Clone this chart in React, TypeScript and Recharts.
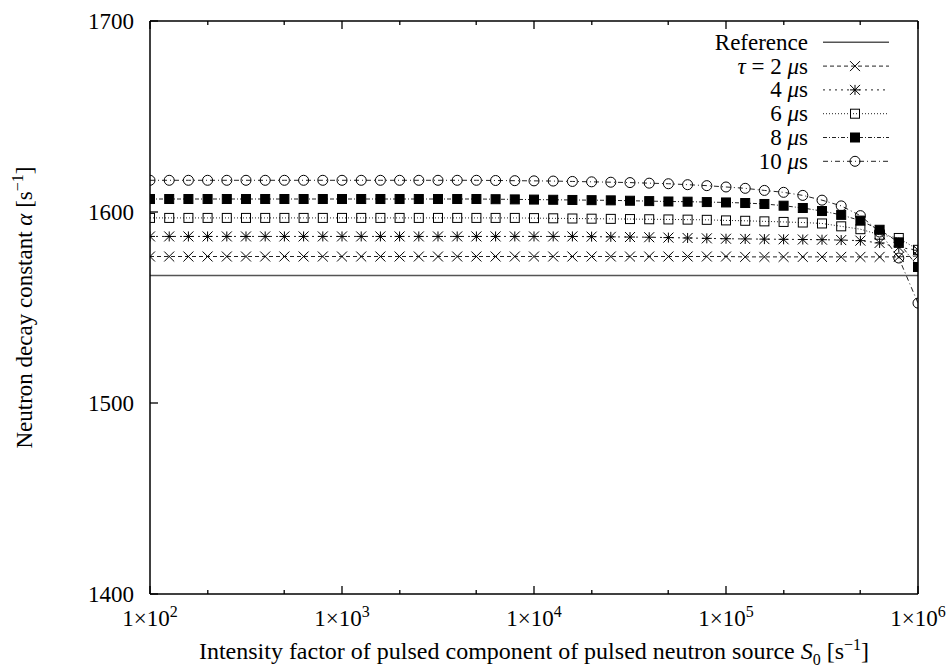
import { LineChart, Line, XAxis, YAxis, ReferenceLine, Legend } from "recharts";

const FONT = "'Liberation Serif', 'Times New Roman', serif";

// intensity factor S0 [1/s], 10 points per decade
const S_VALUES = [
  100, 125.9, 158.5, 199.5, 251.2, 316.2, 398.1, 501.2, 631.0, 794.3,
  1000, 1259, 1585, 1995, 2512, 3162, 3981, 5012, 6310, 7943,
  10000, 12589, 15849, 19953, 25119, 31623, 39811, 50119, 63096, 79433,
  100000, 125893, 158489, 199526, 251189, 316228, 398107, 501187, 630957, 794328,
  1000000,
];

const REFERENCE_ALPHA = 1566.7;

const TAU_2 = [
  1576.7, 1576.7, 1576.7, 1576.7, 1576.7, 1576.7, 1576.7, 1576.7, 1576.7, 1576.7,
  1576.7, 1576.7, 1576.7, 1576.7, 1576.7, 1576.7, 1576.7, 1576.7, 1576.7, 1576.7,
  1576.7, 1576.7, 1576.7, 1576.7, 1576.7, 1576.7, 1576.7, 1576.7, 1576.7, 1576.7,
  1576.7, 1576.5, 1576.5, 1576.5, 1576.5, 1576.5, 1576.5, 1576.5, 1576.5, 1576.5,
  1577.0,
];

const TAU_4 = [
  1587.2, 1587.2, 1587.2, 1587.2, 1587.2, 1587.2, 1587.2, 1587.2, 1587.2, 1587.2,
  1587.2, 1587.2, 1587.2, 1587.2, 1587.2, 1587.2, 1587.2, 1587.2, 1587.2, 1587.2,
  1587.2, 1587.2, 1587.2, 1587.1, 1587.0, 1586.9, 1586.8, 1586.6, 1586.4, 1586.2,
  1586.0, 1585.9, 1585.8, 1585.7, 1585.6, 1585.5, 1585.3, 1585.0, 1583.8, 1581.5,
  1580.0,
];

const TAU_6 = [
  1596.9, 1596.9, 1596.9, 1596.9, 1596.9, 1596.9, 1596.9, 1596.9, 1596.9, 1596.9,
  1596.9, 1596.9, 1596.9, 1596.9, 1596.9, 1596.9, 1596.9, 1596.9, 1596.9, 1596.9,
  1596.8, 1596.7, 1596.6, 1596.5, 1596.4, 1596.3, 1596.2, 1596.1, 1596.0, 1595.9,
  1595.6, 1595.4, 1595.1, 1594.8, 1594.5, 1594.0, 1592.5, 1591.0, 1588.1, 1586.4,
  1580.2,
];

const TAU_8 = [
  1606.8, 1606.8, 1606.8, 1606.8, 1606.8, 1606.8, 1606.8, 1606.8, 1606.8, 1606.8,
  1606.8, 1606.8, 1606.8, 1606.8, 1606.8, 1606.8, 1606.8, 1606.8, 1606.7, 1606.6,
  1606.5, 1606.4, 1606.3, 1606.2, 1606.1, 1605.9, 1605.7, 1605.5, 1605.4, 1605.2,
  1605.0, 1604.7, 1604.2, 1603.3, 1602.1, 1600.5, 1598.5, 1595.5, 1590.7, 1584.1,
  1571.2,
];

const TAU_10 = [
  1616.6, 1616.6, 1616.6, 1616.6, 1616.6, 1616.6, 1616.6, 1616.6, 1616.6, 1616.6,
  1616.6, 1616.6, 1616.6, 1616.6, 1616.6, 1616.6, 1616.6, 1616.6, 1616.5, 1616.4,
  1616.3, 1616.2, 1616.0, 1615.8, 1615.6, 1615.4, 1615.1, 1614.8, 1614.3, 1613.8,
  1613.1, 1612.4, 1611.3, 1610.3, 1608.7, 1606.2, 1603.2, 1598.1, 1589.5, 1575.9,
  1552.3,
];

const X_TICKS = [100, 200, 500, 1000, 2000, 5000, 10000, 20000, 50000, 100000, 200000, 500000, 1000000];
const Y_TICKS = [1400, 1500, 1600, 1700];

type Shape = "cross" | "star" | "box" | "fbox" | "circle";

const SERIES: { key: string; tau: string; dash: string; shape: Shape }[] = [
  { key: "t2", tau: "2", dash: "4 3", shape: "cross" },
  { key: "t4", tau: "4", dash: "2 4", shape: "star" },
  { key: "t6", tau: "6", dash: "1 2", shape: "box" },
  { key: "t8", tau: "8", dash: "4 2 1 2", shape: "fbox" },
  { key: "t10", tau: "10", dash: "5 3 1 3", shape: "circle" },
];

const data = S_VALUES.map((s, i) => ({
  s,
  t2: TAU_2[i],
  t4: TAU_4[i],
  t6: TAU_6[i],
  t8: TAU_8[i],
  t10: TAU_10[i],
}));

function Marker({ shape, cx, cy }: { shape: Shape; cx: number; cy: number }) {
  const r = 5;
  const q = 4.5;
  if (shape === "cross")
    return <path d={`M${cx - r},${cy - r}L${cx + r},${cy + r}M${cx - r},${cy + r}L${cx + r},${cy - r}`} stroke="#000" strokeWidth={1} />;
  if (shape === "star")
    return (
      <path
        d={`M${cx - r},${cy - r}L${cx + r},${cy + r}M${cx - r},${cy + r}L${cx + r},${cy - r}M${cx - r},${cy}L${cx + r},${cy}M${cx},${cy - r}L${cx},${cy + r}`}
        stroke="#000"
        strokeWidth={1}
      />
    );
  if (shape === "box") return <rect x={cx - q} y={cy - q} width={2 * q} height={2 * q} fill="none" stroke="#000" strokeWidth={1} />;
  if (shape === "fbox") return <rect x={cx - q} y={cy - q} width={2 * q} height={2 * q} fill="#000" stroke="#000" strokeWidth={1} />;
  return <circle cx={cx} cy={cy} r={r} fill="none" stroke="#000" strokeWidth={1} />;
}

const isMajor = (v: number) => Math.abs(Math.log10(v) - Math.round(Math.log10(v))) < 1e-6;

function BottomTick(props: any) {
  const { x, y, payload } = props;
  const v = payload.value;
  const major = isMajor(v);
  return (
    <g>
      <line x1={x} x2={x} y1={y} y2={y - (major ? 8 : 4)} stroke="#000" strokeWidth={1.3} />
      {major && (
        <text x={x} y={y + 32} textAnchor="middle" fontSize={23} fontFamily={FONT} fill="#000">
          1×10<tspan dy={-9} fontSize={16}>{Math.round(Math.log10(v))}</tspan>
        </text>
      )}
    </g>
  );
}

function TopTick(props: any) {
  const { x, y, payload } = props;
  const major = isMajor(payload.value);
  return <line x1={x} x2={x} y1={y} y2={y + (major ? 8 : 4)} stroke="#000" strokeWidth={1.3} />;
}

function LeftTick(props: any) {
  const { x, y, payload } = props;
  return (
    <g>
      <line x1={x} x2={x + 8} y1={y} y2={y} stroke="#000" strokeWidth={1.3} />
      <text x={x - 16} y={y + 7.5} textAnchor="end" fontSize={23} fontFamily={FONT} fill="#000">
        {payload.value}
      </text>
    </g>
  );
}

function RightTick(props: any) {
  const { x, y } = props;
  return <line x1={x} x2={x - 8} y1={y} y2={y} stroke="#000" strokeWidth={1.3} />;
}

function renderXLabel(props: any) {
  const vb = props.viewBox;
  return (
    <text x={vb.x + vb.width / 2} y={vb.y + 65} textAnchor="middle" fontSize={24} fontFamily={FONT} fill="#000">
      Intensity factor of pulsed component of pulsed neutron source <tspan fontStyle="italic">S</tspan>
      <tspan dy={6} fontSize={16}>0</tspan>
      <tspan dy={-6}> [s</tspan>
      <tspan dy={-9} fontSize={16}>−1</tspan>
      <tspan dy={9}>]</tspan>
    </text>
  );
}

function renderYLabel(props: any) {
  const vb = props.viewBox;
  const cy = vb.y + vb.height / 2;
  return (
    <text
      transform={`rotate(-90, 32, ${cy})`}
      x={32}
      y={cy}
      textAnchor="middle"
      fontSize={23}
      fontFamily={FONT}
      fill="#000"
    >
      Neutron decay constant <tspan fontStyle="italic">α</tspan> [s
      <tspan dy={-9} fontSize={16}>−1</tspan>
      <tspan dy={9}>]</tspan>
    </text>
  );
}

function LegendBox() {
  const rowY = (i: number) => 14.3 + i * 23.8;
  return (
    <svg width={230} height={150} style={{ fontFamily: FONT }}>
      <text x={108} y={rowY(0) + 7.5} textAnchor="end" fontSize={23} fill="#000">Reference</text>
      <line x1={123} x2={189} y1={rowY(0)} y2={rowY(0)} stroke="#555" strokeWidth={1.5} />
      {SERIES.map((s, i) => {
        const y = rowY(i + 1);
        return (
          <g key={s.key}>
            <text x={108} y={y + 7.5} textAnchor="end" fontSize={23} fill="#000">
              {i === 0 && (
                <>
                  <tspan fontStyle="italic">τ</tspan> = {" "}
                </>
              )}
              {s.tau} <tspan fontStyle="italic">μ</tspan>s
            </text>
            <line x1={123} x2={189} y1={y} y2={y} stroke="#222" strokeWidth={1} strokeDasharray={s.dash} />
            <Marker shape={s.shape} cx={155} cy={y} />
          </g>
        );
      })}
    </svg>
  );
}

export default function App() {
  return (
    <div>
      <style>{`body{margin:0;background:#fff}`}</style>
      <LineChart width={951} height={671} data={data} margin={{ top: 0, right: 0, bottom: 0, left: 0 }} style={{ fontFamily: FONT }}>
        <XAxis
          dataKey="s"
          type="number"
          scale="log"
          domain={[100, 1000000]}
          allowDataOverflow
          ticks={X_TICKS}
          interval={0}
          height={77}
          tickSize={0}
          tickMargin={0}
          tickLine={false}
          axisLine={{ stroke: "#000", strokeWidth: 1.5 }}
          tick={<BottomTick />}
          label={renderXLabel}
        />
        <XAxis
          xAxisId="top"
          orientation="top"
          dataKey="s"
          type="number"
          scale="log"
          domain={[100, 1000000]}
          allowDataOverflow
          ticks={X_TICKS}
          interval={0}
          height={21}
          tickSize={0}
          tickMargin={0}
          tickLine={false}
          axisLine={{ stroke: "#000", strokeWidth: 1.5 }}
          tick={<TopTick />}
        />
        <YAxis
          type="number"
          domain={[1400, 1700]}
          ticks={Y_TICKS}
          interval={0}
          width={150}
          tickSize={0}
          tickMargin={0}
          tickLine={false}
          axisLine={{ stroke: "#000", strokeWidth: 1.5 }}
          tick={<LeftTick />}
          label={renderYLabel}
        />
        <YAxis
          yAxisId="right"
          orientation="right"
          type="number"
          domain={[1400, 1700]}
          ticks={Y_TICKS}
          interval={0}
          width={33}
          tickSize={0}
          tickMargin={0}
          tickLine={false}
          axisLine={{ stroke: "#000", strokeWidth: 1.5 }}
          tick={<RightTick />}
        />
        <ReferenceLine y={REFERENCE_ALPHA} stroke="#555" strokeWidth={1.5} />
        {SERIES.map((s) => (
          <Line
            key={s.key}
            dataKey={s.key}
            type="linear"
            stroke="#222"
            strokeWidth={1}
            strokeDasharray={s.dash}
            isAnimationActive={false}
            activeDot={false}
            dot={(p: any) => <Marker key={`${s.key}-${p.index}`} shape={s.shape} cx={p.cx} cy={p.cy} />}
          />
        ))}
        <Legend
          layout="horizontal"
          verticalAlign="middle"
          align="center"
          content={() => <LegendBox />}
          wrapperStyle={{ position: "absolute", left: 700, top: 28, width: 230, height: 150 }}
        />
      </LineChart>
    </div>
  );
}
